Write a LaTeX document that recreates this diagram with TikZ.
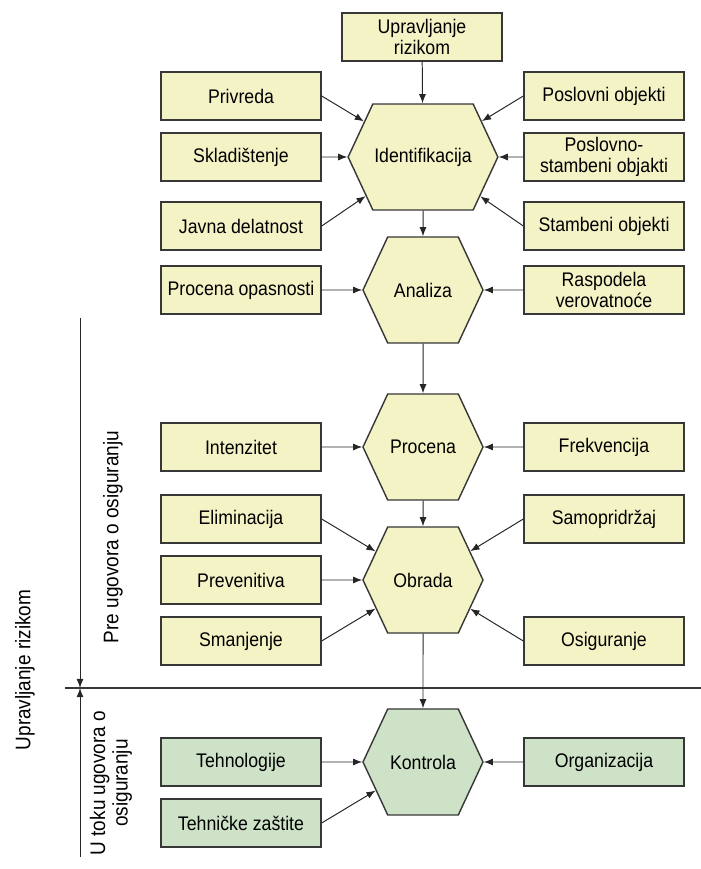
\documentclass[tikz,border=0pt]{standalone}
\usepackage{fontspec}
\setmainfont{Liberation Sans}[FakeStretch=0.9]
\usepackage{tikz}
\usetikzlibrary{positioning,arrows.meta,shapes.symbols}
\definecolor{colY}{RGB}{244,243,198}
\definecolor{colG}{RGB}{205,226,199}
\definecolor{colL}{RGB}{55,55,55}

\begin{document}
\begin{tikzpicture}[
  bx/.style={
    draw=colL, line width=1pt, fill=colY,
    minimum width=4cm, minimum height=1.2cm,
    font=\fontsize{14}{14.5}\selectfont, align=center, inner sep=1pt
  },
  hx/.style={
    signal, signal to=west and east, signal pointer angle=130,
    draw=colL, line width=1pt, fill=colY,
    minimum width=3cm, minimum height=2.65cm,
    font=\fontsize{14}{14.5}\selectfont, inner sep=1pt
  },
  side/.style={font=\fontsize{15}{16}\selectfont, rotate=90, align=center},
  a/.style={-{Latex[length=6.5pt,width=5pt]},line width=0.7pt,black!85}
]
\useasboundingbox (0,0) rectangle (17.525,21.725);

% Top
\node[bx] (upr) at (10.55,20.8) {Upravljanje\\rizikom};

% Identifikacija
\node[hx] (ident) at (10.575,17.8) {Identifikacija};
\node[bx] (privreda) at (6.025,19.325) {Privreda};
\node[bx] (sklad) at (6.025,17.8) {Skladištenje};
\node[bx] (javna) at (6.025,16.075) {Javna delatnost};
\node[bx] (poslovni) at (15.1,19.325) {Poslovni objekti};
\node[bx] (posstamb) at (15.1,17.8) {Poslovno-\\stambeni objakti};
\node[bx] (stambeni) at (15.1,16.075) {Stambeni objekti};

% Analiza
\node[hx] (analiza) at (10.575,14.475) {Analiza};
\node[bx] (opasnost) at (6.025,14.475) {Procena opasnosti};
\node[bx] (raspodela) at (15.1,14.475) {Raspodela\\verovatnoće};

% Procena
\node[hx] (procena) at (10.575,10.55) {Procena};
\node[bx] (intenzitet) at (6.025,10.55) {Intenzitet};
\node[bx] (frekv) at (15.1,10.55) {Frekvencija};

% Obrada
\node[hx] (obrada) at (10.575,7.225) {Obrada};
\node[bx] (elim) at (6.025,8.75) {Eliminacija};
\node[bx] (prev) at (6.025,7.225) {Prevenitiva};
\node[bx] (smanj) at (6.025,5.7) {Smanjenje};
\node[bx] (samo) at (15.1,8.75) {Samopridržaj};
\node[bx] (osig) at (15.1,5.7) {Osiguranje};

% Kontrola
\node[hx,fill=colG] (kontrola) at (10.575,2.675) {Kontrola};
\node[bx,fill=colG] (tehn) at (6.025,2.675) {Tehnologije};
\node[bx,fill=colG] (zastite) at (6.025,1.15) {Tehničke zaštite};
\node[bx,fill=colG] (organ) at (15.1,2.675) {Organizacija};

% Separator and side labels
\coordinate (sepL) at (1.625,4.525);
\coordinate (sepR) at (17.525,4.525);
\coordinate (armT) at (2,13.775);
\coordinate (armM) at (2,4.525);
\coordinate (armB) at (2,0.3);
\draw[line width=0.8pt,colL] (sepL)--(sepR);
\draw[a] (armT)--(armM);
\draw[a] (armB)--(armM);
\node[side] (uprlbl) at (0.625,4.975) {Upravljanje rizikom};
\node[side] (prelbl) at (2.825,8.3) {Pre ugovora o osiguranju};
\node[side] (tokulbl) at (2.775,2.15) {U toku ugovora o\\osiguranju};

% Column arrows
\draw[a] (upr)--(ident);
\draw[a] (ident)--(analiza);
\draw[a] (analiza)--(procena);
\draw[a] (procena)--(obrada);
\draw[a] (obrada)--(kontrola);
% Left inputs
\draw[a] (privreda.east)--(ident);
\draw[a] (sklad.east)--(ident);
\draw[a] (javna.east)--(ident);
\draw[a] (opasnost.east)--(analiza);
\draw[a] (intenzitet.east)--(procena);
\draw[a] (elim.east)--(obrada);
\draw[a] (prev.east)--(obrada);
\draw[a] (smanj.east)--(obrada);
\draw[a] (tehn.east)--(kontrola);
\draw[a] (zastite.east)--(kontrola);
% Right inputs
\draw[a] (poslovni.west)--(ident);
\draw[a] (posstamb.west)--(ident);
\draw[a] (stambeni.west)--(ident);
\draw[a] (raspodela.west)--(analiza);
\draw[a] (frekv.west)--(procena);
\draw[a] (samo.west)--(obrada);
\draw[a] (osig.west)--(obrada);
\draw[a] (organ.west)--(kontrola);
\end{tikzpicture}
\end{document}
